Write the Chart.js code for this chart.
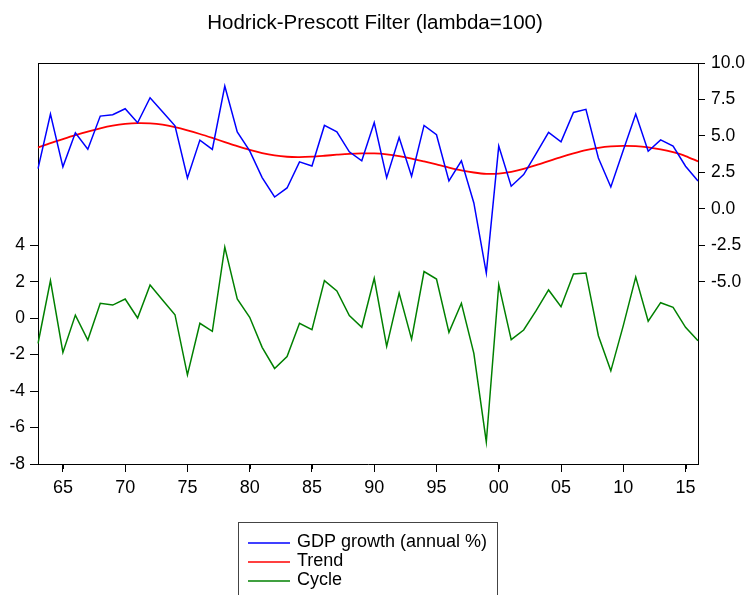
<!DOCTYPE html>
<html>
<head>
<meta charset="utf-8">
<script src="https://cdn.jsdelivr.net/npm/chart.js@4.4.1/dist/chart.umd.min.js"></script>
<style>
  html, body { margin: 0; padding: 0; background: #ffffff; }
  #wrap { width: 750px; height: 595px; position: relative; }
</style>
</head>
<body>
<div id="wrap"><canvas id="c" width="750" height="595"></canvas></div>
<script>
const years = [];
for (let y = 1963; y <= 2016; y++) years.push(y);

const gdpGrowth = [2.76, 6.50, 2.88, 5.21, 4.09, 6.36, 6.45, 6.86, 5.90, 7.62,
  6.66, 5.69, 2.12, 4.71, 4.07, 8.42, 5.28, 3.97, 2.14, 0.81,
  1.43, 3.22, 2.94, 5.72, 5.28, 3.91, 3.29, 5.92, 2.14, 4.89,
  2.23, 5.72, 5.08, 1.91, 3.29, 0.40, -4.41, 4.30, 1.55, 2.35,
  3.79, 5.24, 4.60, 6.61, 6.82, 3.49, 1.50, 4.02, 6.50, 3.95,
  4.73, 4.30, 2.92, 1.91];

const trend = [4.20, 4.50, 4.78, 5.05, 5.30, 5.52, 5.70, 5.82, 5.88, 5.86,
  5.77, 5.60, 5.38, 5.13, 4.86, 4.58, 4.30, 4.04, 3.82, 3.66,
  3.57, 3.55, 3.58, 3.64, 3.71, 3.77, 3.80, 3.80, 3.74, 3.62,
  3.45, 3.25, 3.04, 2.83, 2.64, 2.49, 2.40, 2.42, 2.54, 2.74,
  2.99, 3.27, 3.55, 3.80, 4.02, 4.18, 4.28, 4.32, 4.30, 4.22,
  4.08, 3.88, 3.62, 3.25];

const cycle = [-1.39, 2.06, -1.88, 0.17, -1.20, 0.82, 0.72, 1.05, 0.01, 1.82,
  1.00, 0.19, -3.11, -0.28, -0.72, 3.90, 1.05, 0.05, -1.60, -2.76,
  -2.10, -0.28, -0.63, 2.06, 1.49, 0.14, -0.50, 2.19, -1.55, 1.38,
  -1.15, 2.56, 2.15, -0.78, 0.82, -1.93, -6.79, 1.84, -1.18, -0.65,
  0.41, 1.55, 0.63, 2.43, 2.48, -0.96, -2.89, -0.41, 2.25, -0.17,
  0.85, 0.60, -0.50, -1.24];

const titleText = 'Hodrick-Prescott Filter (lambda=100)';
const seriesLabels = ['GDP growth (annual %)', 'Trend', 'Cycle'];
const seriesColors = ['#0000ff', '#ff0000', '#008000'];

const FONT = 'Arial, "Liberation Sans", sans-serif';

const frame = {
  id: 'frame',
  afterDatasetsDraw(chart) {
    const { ctx, chartArea: a } = chart;
    ctx.save();
    ctx.strokeStyle = '#000';
    ctx.lineWidth = 1;
    ctx.beginPath();
    ctx.moveTo(a.left, a.top + 0.5);
    ctx.lineTo(a.right, a.top + 0.5);
    ctx.stroke();
    // minor (yearly) tick marks from the x scale
    const xs = chart.scales.x;
    ctx.beginPath();
    xs.ticks.forEach((t, i) => {
      const px = Math.round(xs.getPixelForTick(i)) + 0.5;
      ctx.moveTo(px, a.bottom);
      ctx.lineTo(px, a.bottom + 5);
    });
    ctx.stroke();
    ctx.restore();
  }
};

const boxLegend = {
  id: 'boxLegend',
  afterDraw(chart) {
    const { ctx } = chart;
    const left = 238.5, top = 522.5, right = 497.5, bottom = 598;
    ctx.save();
    ctx.strokeStyle = '#444';
    ctx.lineWidth = 1;
    ctx.strokeRect(left, top, right - left, bottom - top);
    ctx.font = '18px ' + FONT;
    ctx.textBaseline = 'alphabetic';
    ctx.textAlign = 'left';
    chart.data.datasets.forEach((ds, i) => {
      const base = 546.5 + i * 19.3;
      const ly = Math.round(543 + i * 19);
      ctx.strokeStyle = seriesColors[i];
      ctx.lineWidth = 1.3;
      ctx.beginPath();
      ctx.moveTo(248, ly);
      ctx.lineTo(290, ly);
      ctx.stroke();
      ctx.fillStyle = '#000';
      ctx.fillText(ds.label, 297, base);
    });
    ctx.restore();
  }
};

new Chart(document.getElementById('c'), {
  type: 'line',
  data: {
    labels: years,
    datasets: [
      { label: seriesLabels[0], data: gdpGrowth, borderColor: seriesColors[0], borderWidth: 1.5, yAxisID: 'yR', pointRadius: 0, tension: 0 },
      { label: seriesLabels[1], data: trend, borderColor: seriesColors[1], borderWidth: 1.8, yAxisID: 'yR', pointRadius: 0, tension: 0.3 },
      { label: seriesLabels[2], data: cycle, borderColor: seriesColors[2], borderWidth: 1.5, yAxisID: 'yL', pointRadius: 0, tension: 0 }
    ]
  },
  options: {
    responsive: false,
    animation: false,
    devicePixelRatio: 1,
    layout: { padding: { left: 0, right: 0, top: 0, bottom: 92 } },
    plugins: {
      legend: { display: false },
      tooltip: { enabled: false },
      title: {
        display: true,
        text: titleText,
        color: '#000',
        font: { family: FONT, size: 20.5, weight: 'normal' },
        padding: { top: 11, bottom: 27.4 }
      }
    },
    scales: {
      x: {
        type: 'category',
        offset: false,
        afterFit(s) { s.height = 39; },
        grid: { display: true, drawOnChartArea: false, drawTicks: true, tickLength: 8, color: '#000' },
        border: { display: true, color: '#000', width: 1 },
        ticks: {
          autoSkip: false, maxRotation: 0, minRotation: 0, padding: 5,
          color: '#000', font: { family: FONT, size: 18 },
          callback(v, i) {
            const yr = years[i];
            return yr % 5 === 0 ? String(yr).slice(2) : null;
          }
        }
      },
      yL: {
        type: 'linear',
        position: 'left',
        min: -8, max: 14,
        afterFit(s) { s.width = 38; },
        grid: { display: true, drawOnChartArea: false, drawTicks: true, tickLength: 8, color: '#000' },
        border: { display: true, color: '#000', width: 1 },
        ticks: {
          stepSize: 2, padding: 5, color: '#000', font: { family: FONT, size: 17.5 },
          callback(v) { return v <= 4 ? String(v) : null; }
        }
      },
      yR: {
        type: 'linear',
        position: 'right',
        min: -17.5, max: 10,
        afterFit(s) { s.width = 52; },
        grid: { display: true, drawOnChartArea: false, drawTicks: true, tickLength: 7, color: '#000' },
        border: { display: true, color: '#000', width: 1 },
        ticks: {
          stepSize: 2.5, padding: 6, color: '#000', font: { family: FONT, size: 17.5 },
          callback(v) { return v >= -5 ? Number(v).toFixed(1) : null; }
        }
      }
    }
  },
  plugins: [frame, boxLegend]
});
</script>
</body>
</html>
